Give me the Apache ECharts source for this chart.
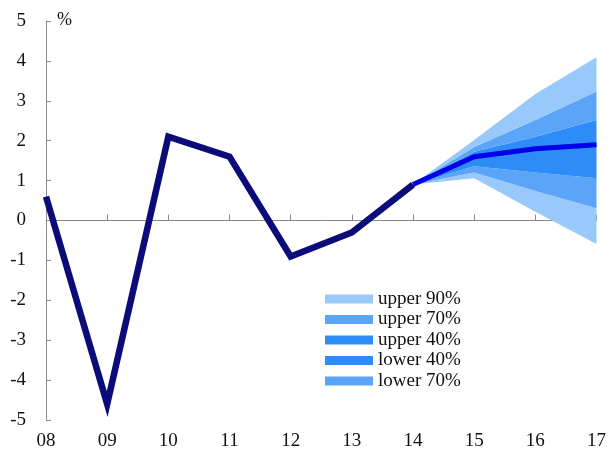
<!DOCTYPE html>
<html>
<head>
<meta charset="utf-8">
<script src="https://cdn.jsdelivr.net/npm/echarts@6/dist/echarts.min.js"></script>
<style>
  html, body { margin: 0; padding: 0; background: #fff; }
  #chart { width: 609px; height: 453px; }
</style>
</head>
<body>
<div id="chart"></div>
<script>
// Year labels
var years = ['08', '09', '10', '11', '12', '13', '14', '15', '16', '17'];
// Outturn growth, %
var actual = [0.6, -4.6, 2.1, 1.6, -0.9, -0.3, 0.9, null, null, null];
// Central projection, %
var central = [null, null, null, null, null, null, 0.9, 1.6, 1.8, 1.9];
// Fan bounds, %
var lower90 = [null, null, null, null, null, null, 0.9, 1.06, 0.22, -0.59];
var lower70 = [null, null, null, null, null, null, 0.9, 1.2, 0.74, 0.31];
var lower40 = [null, null, null, null, null, null, 0.9, 1.36, 1.2, 1.06];
var upper40 = [null, null, null, null, null, null, 0.9, 1.72, 2.1, 2.52];
var upper70 = [null, null, null, null, null, null, 0.9, 1.84, 2.52, 3.23];
var upper90 = [null, null, null, null, null, null, 0.9, 2.02, 3.17, 4.09];
var yTicks = [-5, -4, -3, -2, -1, 0, 1, 2, 3, 4, 5];

var LIGHT = '#99c9fa', MID = '#5aa5f7', DARK = '#2d8cf8';
var FONT = 'Liberation Serif';

function diff(a, b) {
  return a.map(function (v, i) {
    return (v === null || b[i] === null) ? null : +(v - b[i]).toFixed(4);
  });
}

function band(name, data, color) {
  return {
    name: name, type: 'line', stack: 'fan', stackStrategy: 'all',
    data: data, symbol: 'none', silent: true,
    lineStyle: { width: 0, opacity: 0 },
    areaStyle: { color: color, opacity: 1 },
    itemStyle: { color: color },
    z: 1
  };
}

var chart = echarts.init(document.getElementById('chart'), null, { renderer: 'canvas' });
chart.setOption({
  animation: false,
  textStyle: { fontFamily: FONT },
  grid: { left: 46, right: 10, top: 21, bottom: 33 },
  legend: {
    orient: 'vertical', left: 325, top: 289, padding: 0,
    itemWidth: 48, itemHeight: 9, itemGap: 0.5,
    data: ['upper 90%', 'upper 70%', 'upper 40%', 'lower 40%', 'lower 70%'],
    textStyle: { fontFamily: FONT, fontSize: 19, lineHeight: 20, color: '#111' },
    icon: 'rect'
  },
  xAxis: [
    {
      type: 'category', data: years, boundaryGap: false, position: 'bottom',
      axisLine: { show: false, onZero: false }, axisTick: { show: false },
      axisLabel: { fontSize: 19, color: '#111', margin: 12, fontFamily: FONT }
    },
    {
      type: 'category', data: years, boundaryGap: false, position: 'bottom',
      axisLine: { show: true, onZero: true, lineStyle: { color: '#8a8a8a', width: 1 } },
      axisTick: { show: true, inside: true, length: 6, lineStyle: { color: '#8a8a8a' } },
      axisLabel: { show: false }
    }
  ],
  yAxis: {
    type: 'value', min: -5, max: 5, interval: 1,
    axisLine: { show: true, lineStyle: { color: '#8a8a8a', width: 1 } },
    axisTick: { show: true, inside: true, length: 5, lineStyle: { color: '#8a8a8a' } },
    splitLine: { show: false },
    axisLabel: {
      fontSize: 19, color: '#111', margin: 20, fontFamily: FONT,
      formatter: function (v) { return yTicks.indexOf(v) >= 0 ? String(v) : ''; }
    }
  },
  graphic: [{
    type: 'text', left: 57, top: 11,
    style: { text: '%', font: '18px "Liberation Serif"', fill: '#111' }
  }],
  series: [
    {
      name: 'base', type: 'line', stack: 'fan', stackStrategy: 'all',
      data: lower90, symbol: 'none', silent: true,
      lineStyle: { width: 0, opacity: 0 }, z: 1
    },
    band('lower 90%', diff(lower70, lower90), LIGHT),
    band('lower 70%', diff(lower40, lower70), MID),
    band('lower 40%', diff(central, lower40), DARK),
    band('upper 40%', diff(upper40, central), DARK),
    band('upper 70%', diff(upper70, upper40), MID),
    band('upper 90%', diff(upper90, upper70), LIGHT),
    {
      name: 'Actual', type: 'line', data: actual, symbol: 'none',
      lineStyle: { color: '#0b0b7a', width: 6.5, cap: 'butt', join: 'miter' },
      z: 5
    },
    {
      name: 'Central', type: 'line', data: central, symbol: 'none',
      lineStyle: { color: '#0000e8', width: 5, cap: 'butt' },
      z: 4
    }
  ]
});
</script>
</body>
</html>
